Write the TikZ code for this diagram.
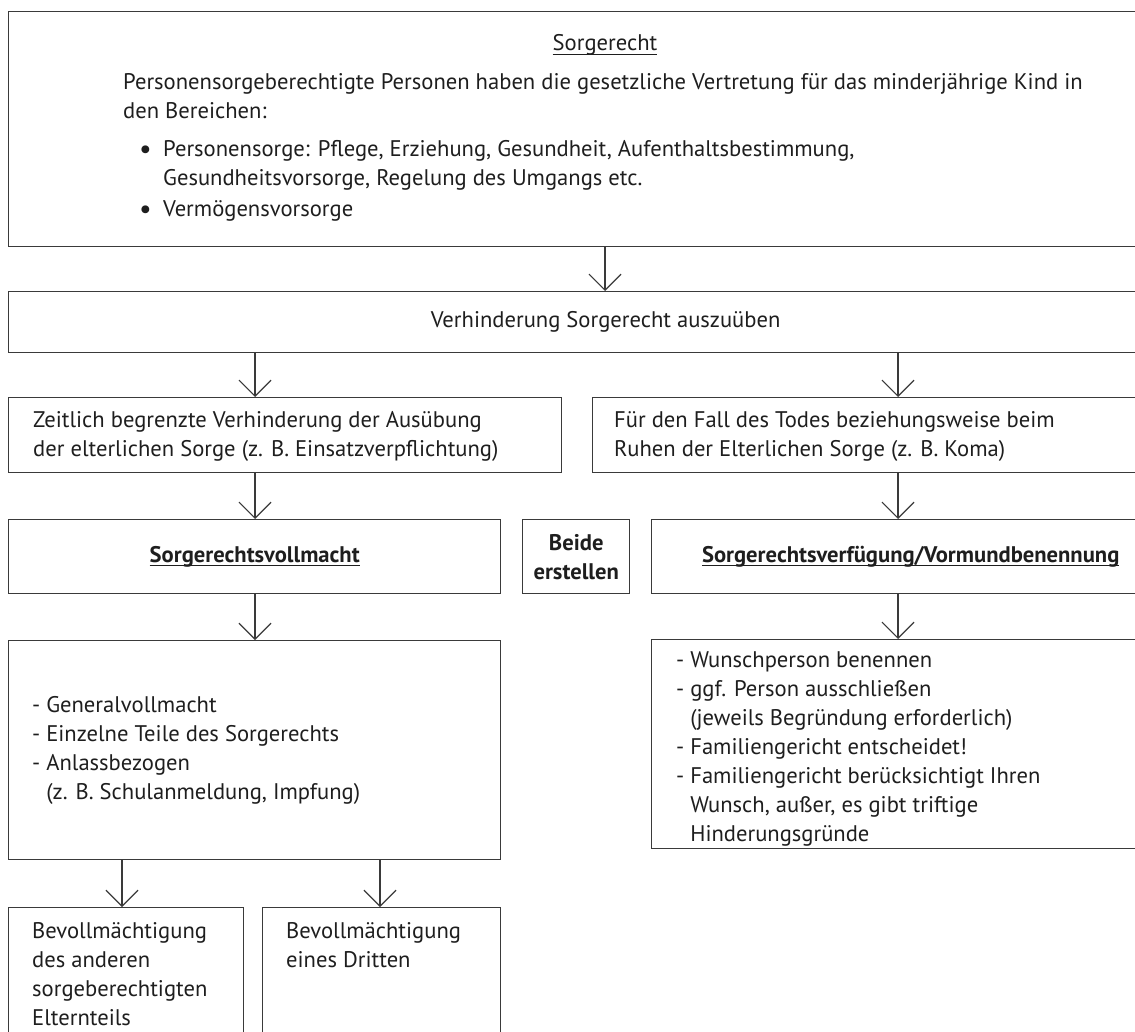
\documentclass[tikz,border=0pt]{standalone}
\usepackage{fontspec}
\setmainfont{PT Sans}
\usetikzlibrary{arrows.meta}
\definecolor{ln}{HTML}{3A3A3A}
\definecolor{tx}{HTML}{1E1E1E}
\newcommand{\myul}[1]{\leavevmode\setbox0\hbox{#1}\rlap{\rule[-4pt]{\wd0}{1.1pt}}\box0}
\newcommand{\mybul}{\raisebox{-1.2pt}{\fontsize{28}{29}\selectfont\textbullet}}
\tikzset{
  box/.style={draw=ln, line width=1.4pt, inner sep=0pt, anchor=north west, text=tx,
    font=\fontsize{22.6}{29}\selectfont, align=center},
  txt/.style={text=tx, inner sep=0pt, font=\fontsize{22.6}{29}\selectfont, align=left, anchor=north west},
  arr/.style={draw=ln, line width=1.2pt, -{Straight Barb[length=16pt,width=32pt,line width=1.2pt]}},
}
\begin{document}
\begin{tikzpicture}[x=1pt,y=-1pt]
\useasboundingbox (0,0) rectangle (1135,1032);
\clip (0,0) rectangle (1135,1032);
% boxes
\node[box, minimum width=1194pt, minimum height=235pt] (topbox) at (8,11) {};
\node[box, minimum width=1194pt, minimum height=61pt] (verh) at (8,291) {Verhinderung Sorgerecht auszuüben};
\node[box, minimum width=553pt, minimum height=75pt] (zeit) at (8,397) {};
\node[box, minimum width=620pt, minimum height=75pt] (fuer) at (592,397) {};
\node[box, minimum width=492pt, minimum height=74pt] (voll) at (8,519) {\myul{\textbf{Sorgerechtsvollmacht}}};
\node[box, minimum width=107pt, minimum height=74pt] (beide) at (522,519) {\textbf{Beide}\\\textbf{erstellen}};
\node[box, minimum width=518pt, minimum height=74pt] (verf) at (651,519) {\myul{\textbf{Sorgerechtsverfügung/Vormundbenennung}}};
\node[box, minimum width=492pt, minimum height=219pt] (listl) at (8,640) {};
\node[box, minimum width=560pt, minimum height=209pt] (listr) at (651,639) {};
\node[box, minimum width=235pt, minimum height=150pt] (bota) at (8,907) {};
\node[box, minimum width=238pt, minimum height=150pt] (botb) at (262,907) {};
% texts
\node[txt, anchor=center] (title) at (605,45) {\myul{Sorgerecht}};
\node[txt] (para) at (123,73.5) {Personensorgeberechtigte Personen haben die gesetzliche Vertretung für das minderjährige Kind in\\den Bereichen:};
\node[txt] (bullets) at (139,136.5) {\begin{tabular}{@{}p{24pt}@{}l@{}}
\mybul&Personensorge: Pflege, Erziehung, Gesundheit, Aufenthaltsbestimmung,\\
 &Gesundheitsvorsorge, Regelung des Umgangs etc.\\[2pt]
\mybul&Vermögensvorsorge
\end{tabular}};
\node[txt] (zeittxt) at (33,411.5) {Zeitlich begrenzte Verhinderung der Ausübung\\der elterlichen Sorge (z. B. Einsatzverpflichtung)};
\node[txt] (fuertxt) at (614,411.5) {Für den Fall des Todes beziehungsweise beim\\Ruhen der Elterlichen Sorge (z. B. Koma)};
\node[txt] (listltxt) at (32,691.5) {\begin{tabular}{@{}l@{\hspace{6pt}}l@{}}
-&Generalvollmacht\\
-&Einzelne Teile des Sorgerechts\\
-&Anlassbezogen\\
 &(z. B. Schulanmeldung, Impfung)
\end{tabular}};
\node[txt] (listrtxt) at (676,646.5) {\begin{tabular}{@{}l@{\hspace{6pt}}l@{}}
-&Wunschperson benennen\\
-&ggf. Person ausschließen\\
 &(jeweils Begründung erforderlich)\\
-&Familiengericht entscheidet!\\
-&Familiengericht berücksichtigt Ihren\\
 &Wunsch, außer, es gibt triftige\\
 &Hinderungsgründe
\end{tabular}};
\node[txt] (botatxt) at (32,922.5) {Bevollmächtigung\\des anderen\\sorgeberechtigten\\Elternteils};
\node[txt] (botbtxt) at (286,922.5) {Bevollmächtigung\\eines Dritten};
% arrow columns
\coordinate (xa) at (605,0);
\coordinate (xl) at (255,0);
\coordinate (xr) at (898,0);
\coordinate (xb) at (122,0);
\coordinate (xc) at (380,0);
% arrows
\draw[arr] (topbox.south -| xa) -- (verh.north -| xa);
\draw[arr] (verh.south -| xl) -- (zeit.north -| xl);
\draw[arr] (verh.south -| xr) -- (fuer.north -| xr);
\draw[arr] (zeit.south -| xl) -- (voll.north -| xl);
\draw[arr] (fuer.south -| xr) -- (verf.north -| xr);
\draw[arr] (voll.south -| xl) -- (listl.north -| xl);
\draw[arr] (verf.south -| xr) -- (listr.north -| xr);
\draw[arr] (listl.south -| xb) -- (bota.north -| xb);
\draw[arr] (listl.south -| xc) -- (botb.north -| xc);
\end{tikzpicture}
\end{document}
